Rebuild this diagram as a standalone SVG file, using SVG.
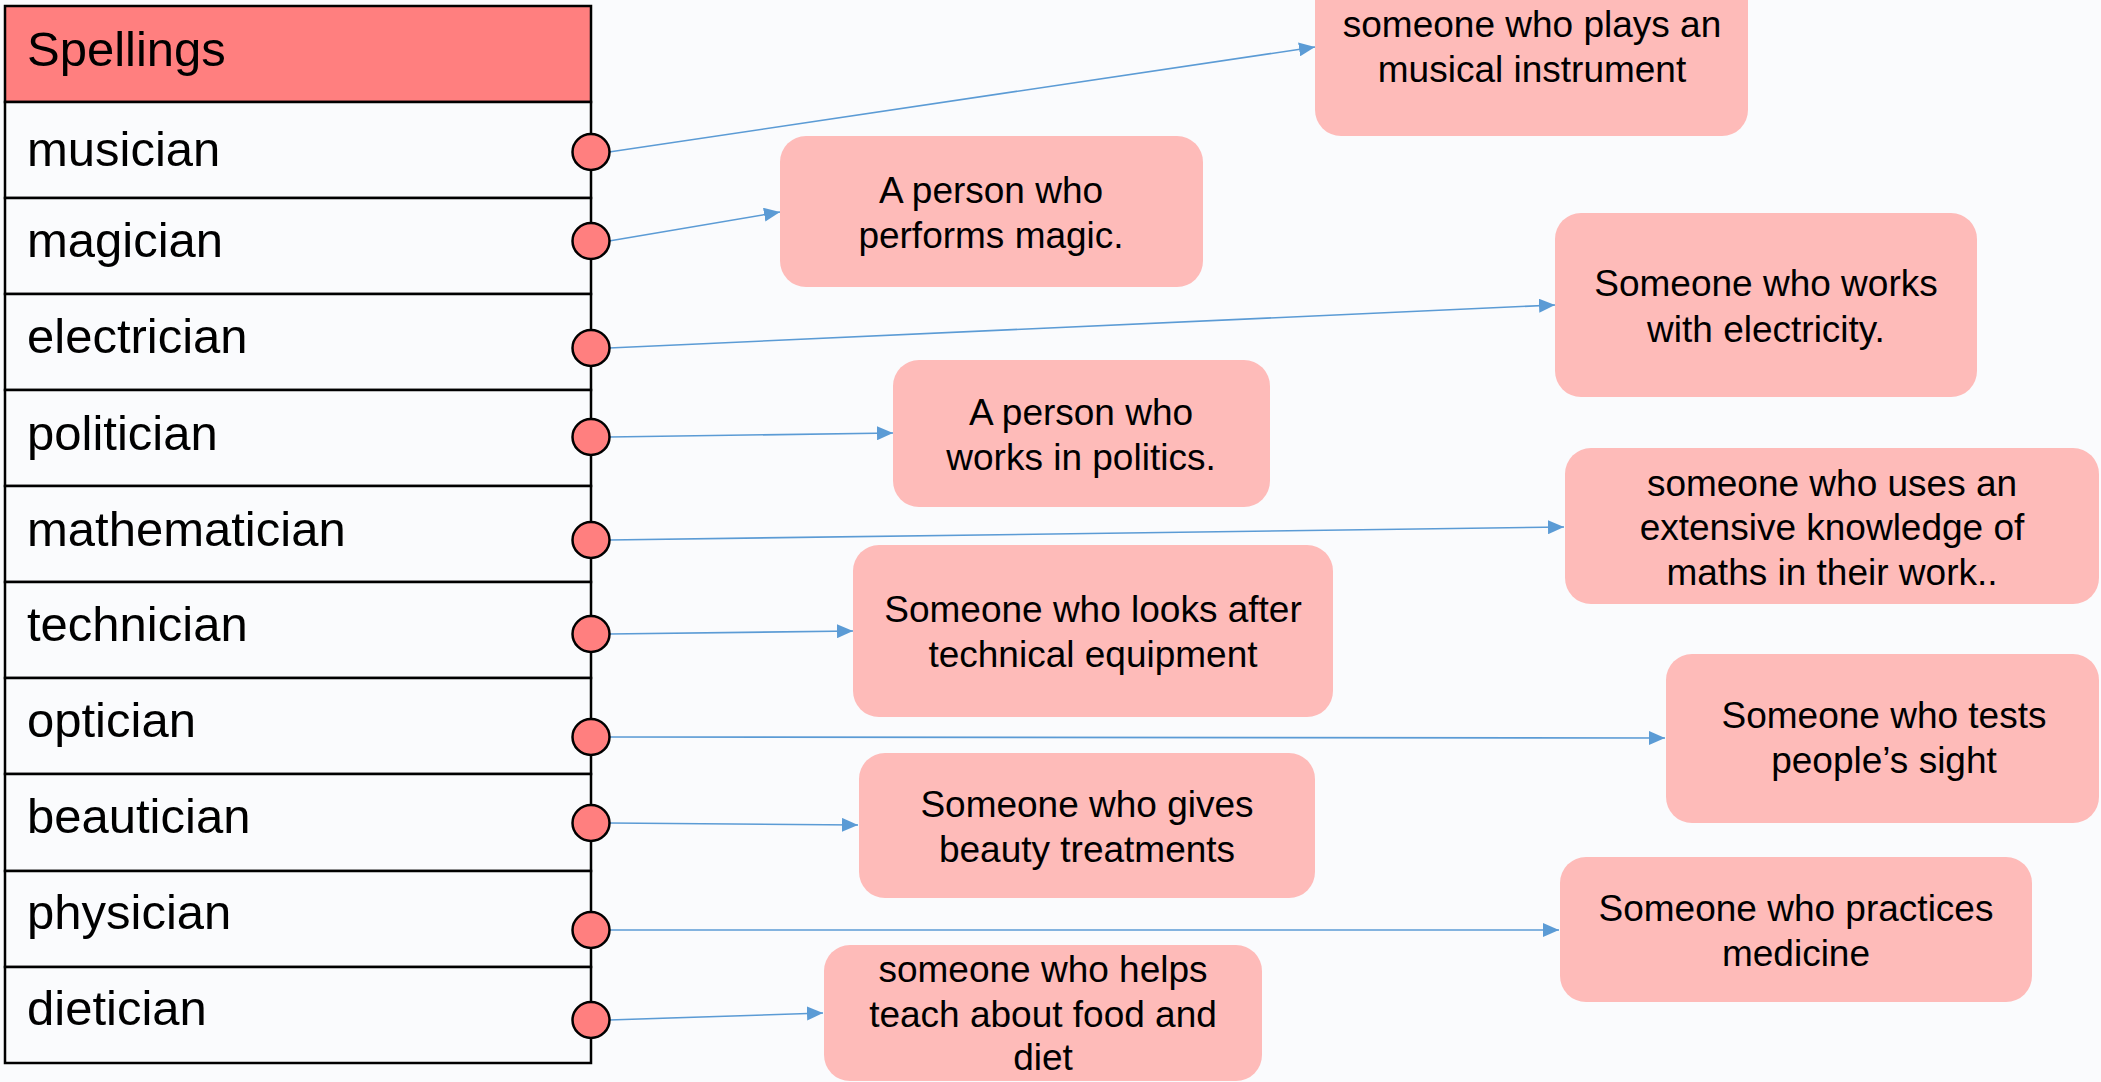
<svg xmlns="http://www.w3.org/2000/svg" width="2101" height="1082" viewBox="0 0 2101 1082">
<defs>
<style>
.bg{fill:#FAFBFD}
.hdr{fill:#FF7F7F;stroke:#000;stroke-width:2.5}
.row{fill:#FAFBFD;stroke:#000;stroke-width:2.5}
.rt{font-family:"Liberation Sans",Arial,sans-serif;font-size:49px;fill:#000}
.dot{fill:#FF7F7F;stroke:#000;stroke-width:2.5}
.box{fill:#FEBBB9}
.bt{font-family:"Liberation Sans",Arial,sans-serif;font-size:37px;fill:#000;text-anchor:middle}
.con{stroke:#5B9BD5;stroke-width:1.6;fill:none;marker-end:url(#arr)}
</style>
<marker id="arr" markerUnits="userSpaceOnUse" markerWidth="17" markerHeight="14" refX="16" refY="7" orient="auto">
<path d="M0,0 L16,7 L0,14 z" fill="#5B9BD5"/>
</marker>
</defs>
<rect class="bg" x="0" y="0" width="2101" height="1082"/>

<g id="table">
<g id="header"><rect class="hdr" x="5" y="6" width="586" height="96"/><text class="rt" x="27" y="66">Spellings</text></g>
<g id="row-musician"><rect class="row" x="5" y="102" width="586" height="96"/><text class="rt" x="27" y="166">musician</text></g>
<g id="row-magician"><rect class="row" x="5" y="198" width="586" height="96"/><text class="rt" x="27" y="257">magician</text></g>
<g id="row-electrician"><rect class="row" x="5" y="294" width="586" height="96"/><text class="rt" x="27" y="353">electrician</text></g>
<g id="row-politician"><rect class="row" x="5" y="390" width="586" height="96"/><text class="rt" x="27" y="450">politician</text></g>
<g id="row-mathematician"><rect class="row" x="5" y="486" width="586" height="96"/><text class="rt" x="27" y="546">mathematician</text></g>
<g id="row-technician"><rect class="row" x="5" y="582" width="586" height="96"/><text class="rt" x="27" y="641">technician</text></g>
<g id="row-optician"><rect class="row" x="5" y="678" width="586" height="96"/><text class="rt" x="27" y="737">optician</text></g>
<g id="row-beautician"><rect class="row" x="5" y="774" width="586" height="97"/><text class="rt" x="27" y="833">beautician</text></g>
<g id="row-physician"><rect class="row" x="5" y="871" width="586" height="96"/><text class="rt" x="27" y="929">physician</text></g>
<g id="row-dietician"><rect class="row" x="5" y="967" width="586" height="96"/><text class="rt" x="27" y="1025">dietician</text></g>
</g>

<g id="connectors">
<line class="con" x1="609" y1="152" x2="1315" y2="47"/>
<line class="con" x1="609" y1="241" x2="780" y2="212"/>
<line class="con" x1="609" y1="348" x2="1555" y2="305"/>
<line class="con" x1="609" y1="437" x2="893" y2="433"/>
<line class="con" x1="609" y1="540" x2="1564" y2="527"/>
<line class="con" x1="609" y1="634" x2="853" y2="631"/>
<line class="con" x1="609" y1="737" x2="1665" y2="738"/>
<line class="con" x1="609" y1="823" x2="858" y2="825"/>
<line class="con" x1="609" y1="930" x2="1559" y2="930"/>
<line class="con" x1="609" y1="1020" x2="823" y2="1013"/>
</g>

<g id="ports">
<ellipse class="dot" cx="591" cy="152" rx="18.5" ry="18"/>
<ellipse class="dot" cx="591" cy="241" rx="18.5" ry="18"/>
<ellipse class="dot" cx="591" cy="348" rx="18.5" ry="18"/>
<ellipse class="dot" cx="591" cy="437" rx="18.5" ry="18"/>
<ellipse class="dot" cx="591" cy="540" rx="18.5" ry="18"/>
<ellipse class="dot" cx="591" cy="634" rx="18.5" ry="18"/>
<ellipse class="dot" cx="591" cy="737" rx="18.5" ry="18"/>
<ellipse class="dot" cx="591" cy="823" rx="18.5" ry="18"/>
<ellipse class="dot" cx="591" cy="930" rx="18.5" ry="18"/>
<ellipse class="dot" cx="591" cy="1020" rx="18.5" ry="18"/>
</g>

<g id="def-musician"><rect class="box" x="1315" y="-40" width="433" height="176" rx="26"/><text class="bt" x="1532" y="37">someone who plays an</text><text class="bt" x="1532" y="82">musical instrument</text></g>
<g id="def-magician"><rect class="box" x="780" y="136" width="423" height="151" rx="26"/><text class="bt" x="991" y="203">A person who</text><text class="bt" x="991" y="248">performs magic.</text></g>
<g id="def-electrician"><rect class="box" x="1555" y="213" width="422" height="184" rx="26"/><text class="bt" x="1766" y="296">Someone who works</text><text class="bt" x="1766" y="342">with electricity.</text></g>
<g id="def-politician"><rect class="box" x="893" y="360" width="377" height="147" rx="26"/><text class="bt" x="1081" y="425">A person who</text><text class="bt" x="1081" y="470">works in politics.</text></g>
<g id="def-mathematician"><rect class="box" x="1565" y="448" width="534" height="156" rx="26"/><text class="bt" x="1832" y="496">someone who uses an</text><text class="bt" x="1832" y="540">extensive knowledge of</text><text class="bt" x="1832" y="585">maths in their work..</text></g>
<g id="def-technician"><rect class="box" x="853" y="545" width="480" height="172" rx="26"/><text class="bt" x="1093" y="622">Someone who looks after</text><text class="bt" x="1093" y="667">technical equipment</text></g>
<g id="def-optician"><rect class="box" x="1666" y="654" width="433" height="169" rx="26"/><text class="bt" x="1884" y="728">Someone who tests</text><text class="bt" x="1884" y="773">people’s sight</text></g>
<g id="def-beautician"><rect class="box" x="859" y="753" width="456" height="145" rx="26"/><text class="bt" x="1087" y="817">Someone who gives</text><text class="bt" x="1087" y="862">beauty treatments</text></g>
<g id="def-physician"><rect class="box" x="1560" y="857" width="472" height="145" rx="26"/><text class="bt" x="1796" y="921">Someone who practices</text><text class="bt" x="1796" y="966">medicine</text></g>
<g id="def-dietician"><rect class="box" x="824" y="945" width="438" height="136" rx="26"/><text class="bt" x="1043" y="982">someone who helps</text><text class="bt" x="1043" y="1027">teach about food and</text><text class="bt" x="1043" y="1070">diet</text></g>
</svg>
